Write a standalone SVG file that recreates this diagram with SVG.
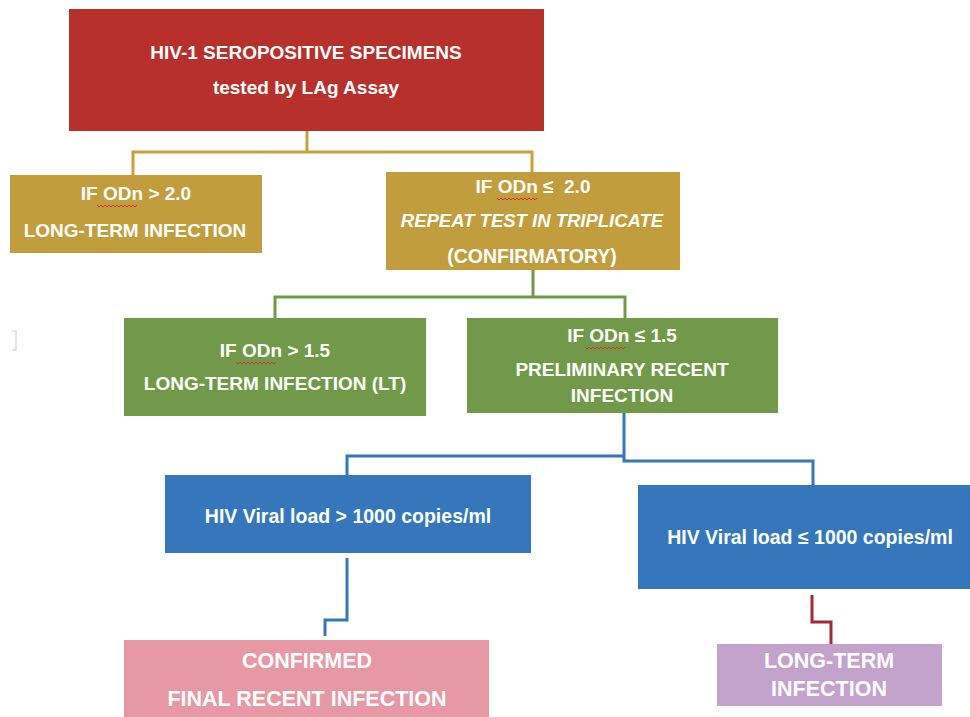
<svg xmlns="http://www.w3.org/2000/svg" width="970" height="717" viewBox="0 0 970 717">
<style>
text{font-family:"Liberation Sans",Arial,sans-serif;font-weight:bold;fill:#fff;text-anchor:middle}
.it{font-style:italic}
.c{fill:none;stroke-width:3}
.sq{fill:none;stroke:#d9302c;stroke-width:1}
</style>
<defs>
<path id="wv" d="M0 0 l2 2 l2 -2 l2 2 l2 -2 l2 2 l2 -2 l2 2 l2 -2 l2 2 l2 -2 l2 2 l2 -2 l2 2 l2 -2 l2 2 l2 -2 l2 2 l2 -2 l2 2 l2 -2"/>
</defs>
<rect width="970" height="717" fill="#fff"/>
<path d="M12 331 H16 V350 H12" fill="none" stroke="#ddd" stroke-width="1.5"/>
<g id="connectors">
<path class="c" stroke="#C9A23D" d="M307 131 V152 H133 V175 M307 152 H532 V172"/>
<path class="c" stroke="#72994A" d="M533 270 V297 H275 V318 M533 297 H625 V318"/>
<path class="c" stroke="#3577BA" d="M624 413 V456 H347 V475 M624 456 V461 H813 V485"/>
<path class="c" stroke="#3577BA" d="M347 558 V620 H325 V636"/>
<path class="c" stroke="#9E2A3A" d="M812 595 V622 H831 V644"/>
</g>
<g id="n-root">
<rect x="69" y="9" width="475" height="122" fill="#B8302C"/>
<text x="306" y="59" font-size="19">HIV-1 SEROPOSITIVE SPECIMENS</text>
<text x="306" y="94" font-size="19">tested by LAg Assay</text>
<use href="#wv" class="sq" x="305" y="98" transform="scale(1)"/>
</g>
<g id="n-gt20">
<rect x="10" y="175" width="252" height="78" fill="#C29D3E"/>
<text x="136" y="200" font-size="19">IF ODn &gt; 2.0</text>
<text x="135" y="237" font-size="19">LONG-TERM INFECTION</text>
<use href="#wv" class="sq" x="97" y="205"/>
</g>
<g id="n-le20">
<rect x="386" y="172" width="294" height="98" fill="#C29D3E"/>
<text x="533" y="193" font-size="19" xml:space="preserve">IF ODn ≤  2.0</text>
<text x="532" y="227" font-size="18.5" class="it">REPEAT TEST IN TRIPLICATE</text>
<text x="532" y="263" font-size="19.5">(CONFIRMATORY)</text>
<use href="#wv" class="sq" x="497" y="198"/>
</g>
<g id="n-gt15">
<rect x="124" y="318" width="302" height="98" fill="#72994A"/>
<text x="275" y="357" font-size="19">IF ODn &gt; 1.5</text>
<text x="275" y="390" font-size="19">LONG-TERM INFECTION (LT)</text>
<use href="#wv" class="sq" x="236" y="362"/>
</g>
<g id="n-le15">
<rect x="467" y="318" width="311" height="95" fill="#72994A"/>
<text x="622" y="342" font-size="19">IF ODn ≤ 1.5</text>
<text x="622" y="376" font-size="19">PRELIMINARY RECENT</text>
<text x="622" y="402" font-size="19">INFECTION</text>
<use href="#wv" class="sq" x="585" y="347"/>
</g>
<g id="n-vlhigh">
<rect x="165" y="475" width="366" height="78" fill="#3577BA"/>
<text x="348" y="523" font-size="19.5">HIV Viral load &gt; 1000 copies/ml</text>
</g>
<g id="n-vllow">
<rect x="638" y="485" width="332" height="104" fill="#3577BA"/>
<text x="810" y="544" font-size="19.5">HIV Viral load ≤ 1000 copies/ml</text>
</g>
<g id="n-confirmed">
<rect x="124" y="640" width="365" height="77" fill="#E698A4"/>
<text x="307" y="668" font-size="21.5">CONFIRMED</text>
<text x="307" y="706" font-size="21.5">FINAL RECENT INFECTION</text>
</g>
<g id="n-lt">
<rect x="717" y="644" width="225" height="62" fill="#C3A2CC"/>
<text x="829" y="668" font-size="21.5">LONG-TERM</text>
<text x="829" y="696" font-size="21.5">INFECTION</text>
</g>
</svg>
